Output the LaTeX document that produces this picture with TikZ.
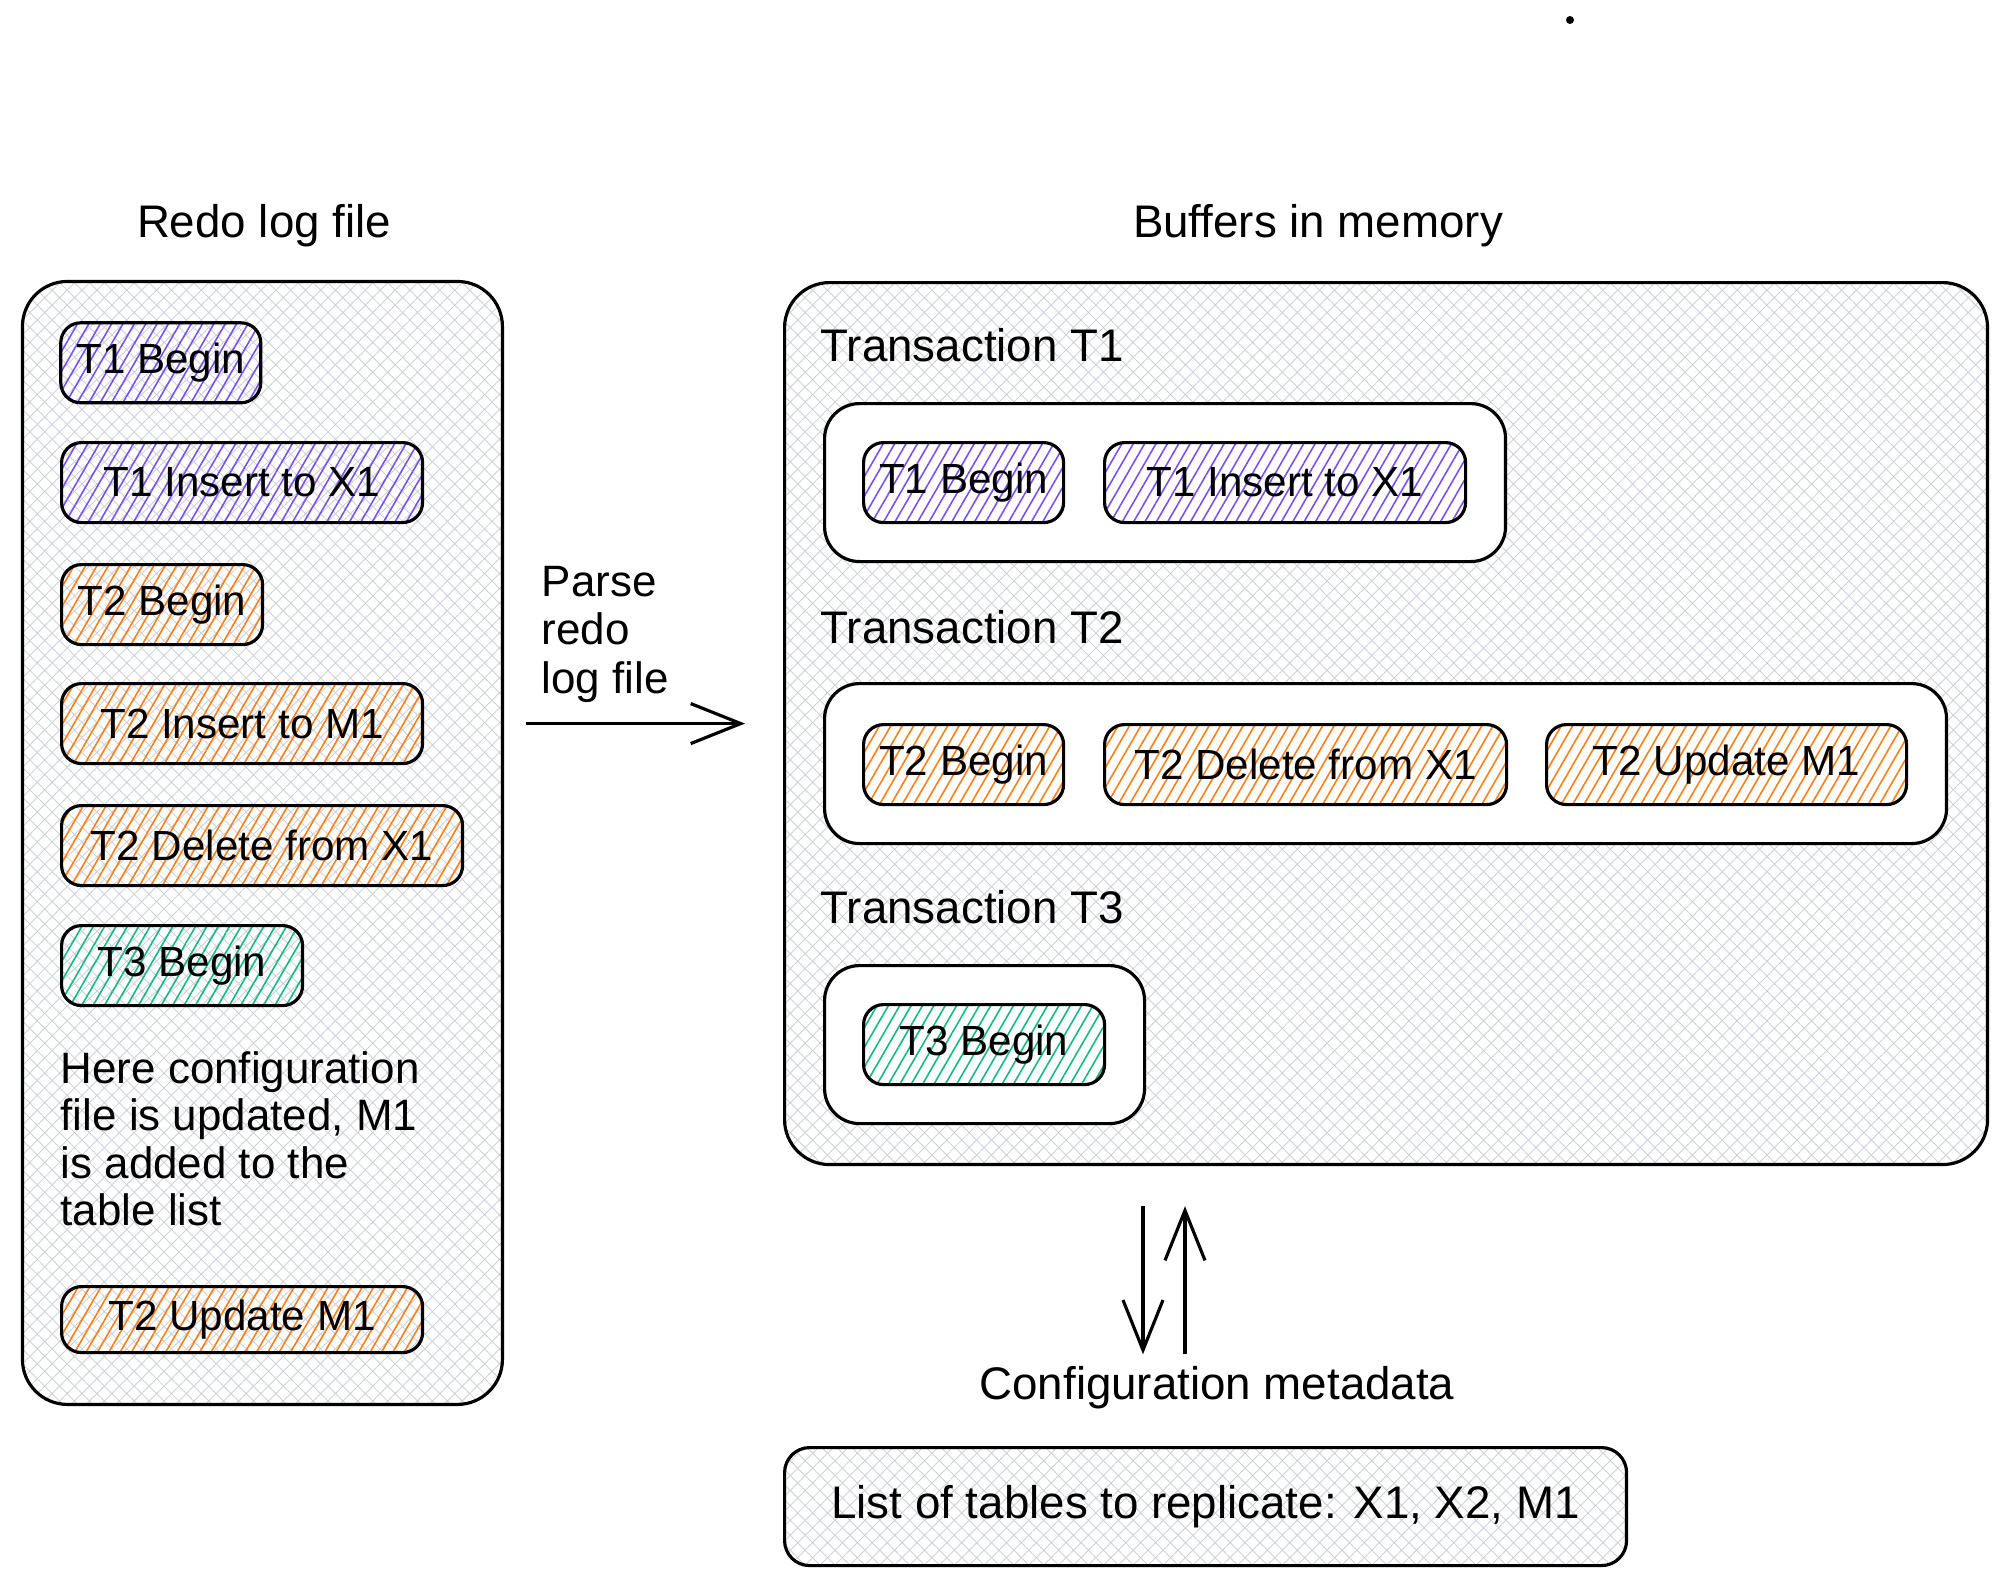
\documentclass[tikz,border=0pt]{standalone}
\usepackage{fontspec}
\setmainfont{Liberation Sans}
\usetikzlibrary{arrows.meta,patterns.meta,calc}

\definecolor{hatchgrey}{HTML}{CDD2D8}
\definecolor{tviolet}{HTML}{7950F2}
\definecolor{torange}{HTML}{FD7E14}
\definecolor{tgreen}{HTML}{12B886}

\tikzset{
	panel/.style={draw, line width=0.9pt, rounded corners=4.5mm, anchor=north west,
		pattern={Hatch[angle=45,distance=3pt,line width=0.25pt]}, pattern color=hatchgrey},
	group/.style={draw, line width=0.9pt, rounded corners=3.5mm, fill=white, anchor=north west},
	entry/.style={draw, line width=0.9pt, rounded corners=2mm, anchor=north west,
		minimum height=8mm, inner sep=0pt,
		pattern={Lines[angle=60,distance=2.8pt,line width=0.45pt]}, pattern color=#1},
	title/.style={font=\fontsize{13}{16}\selectfont},
	arr/.style={line width=0.9pt, -{Straight Barb[length=5mm,width=4mm,line width=0.9pt]}}
}

\begin{document}
\begin{tikzpicture}[x=0.1mm, y=-0.1mm, font=\fontsize{12}{15}\selectfont]
	\useasboundingbox (0,0) rectangle (2000,1580);
	\fill (1570,20) circle (0.4mm);

	% redo log file
	\node[title] (redotitle) at (264,226) {Redo log file};
	\node[panel, minimum width=48mm, minimum height=112.3mm] (redo) at (22,281) {};
	\node[entry=tviolet, minimum width=20mm] (r1) at (60,322) {T1 Begin};
	\node[entry=tviolet, minimum width=36.1mm] (r2) at (60,441) {T1 Insert to X1};
	\node[entry=torange, minimum width=20.1mm] (r3) at (60,563) {T2 Begin};
	\node[entry=torange, minimum width=36.1mm] (r4) at (60,682) {T2 Insert to M1};
	\node[entry=torange, minimum width=40.1mm] (r5) at (60,804) {T2 Delete from X1};
	\node[entry=tgreen, minimum width=24.1mm] (r6) at (60,924) {T3 Begin};
	\node[anchor=west, align=left, font=\fontsize{12.5}{13.5}\selectfont, inner sep=0pt] (note) at (60,1139)
		{Here configuration\\file is updated, M1\\is added to the\\table list};
	\node[entry=torange, minimum width=36.1mm, minimum height=6.6mm] (r7) at (60,1285) {T2 Update M1};

	% buffers in memory
	\node[title] (buftitle) at (1318,226) {Buffers in memory};
	\node[panel, minimum width=120.3mm, minimum height=88.2mm] (buffers) at (783,281) {};

	\node[anchor=west, inner sep=0pt, title] (tr1) at (820,345) {Transaction T1};
	\node[group, minimum width=68.1mm, minimum height=15.8mm] (g1) at (823,402) {};
	\node[entry=tviolet, minimum width=20mm] (b1) at (862,441) {T1 Begin};
	\node[entry=tviolet, minimum width=36.1mm] (b2) at (1103,441) {T1 Insert to X1};

	\node[anchor=west, inner sep=0pt, title] (tr2) at (820,627) {Transaction T2};
	\node[group, minimum width=112.2mm, minimum height=16mm] (g2) at (823,682) {};
	\node[entry=torange, minimum width=20mm] (b3) at (862,723) {T2 Begin};
	\node[entry=torange, minimum width=40.2mm] (b4) at (1103,723) {T2 Delete from X1};
	\node[entry=torange, minimum width=36mm] (b5) at (1545,723) {T2 Update M1};

	\node[anchor=west, inner sep=0pt, title] (tr3) at (820,907) {Transaction T3};
	\node[group, minimum width=32mm, minimum height=15.8mm] (g3) at (823,964) {};
	\node[entry=tgreen, minimum width=24.1mm] (b6) at (862,1003) {T3 Begin};

	% parse arrow
	\node[anchor=west, align=left, font=\fontsize{12.5}{13.8}\selectfont, inner sep=0pt] (parse) at (541,634)
		{Parse\\redo\\log file};
	\draw[arr, shorten <=2.3mm, shorten >=3.8mm] (redo.east |- buffers.west) -- (buffers.west);

	% configuration metadata
	\node[title] (meta) at (1217,1388) {Configuration metadata};
	\node[panel, rounded corners=2.5mm, minimum width=84.2mm, minimum height=11.8mm] (tables) at (783,1446)
		{};
	\node[title] (tablestext) at (tables.center) {List of tables to replicate: X1, X2, M1};
	\draw[arr, shorten <=4mm] ([xshift=-7.4mm]meta.north |- buffers.south) -- ([xshift=-7.4mm]meta.north);
	\draw[arr, shorten >=4mm] ([xshift=-3.2mm]meta.north) -- ([xshift=-3.2mm]meta.north |- buffers.south);
\end{tikzpicture}
\end{document}
